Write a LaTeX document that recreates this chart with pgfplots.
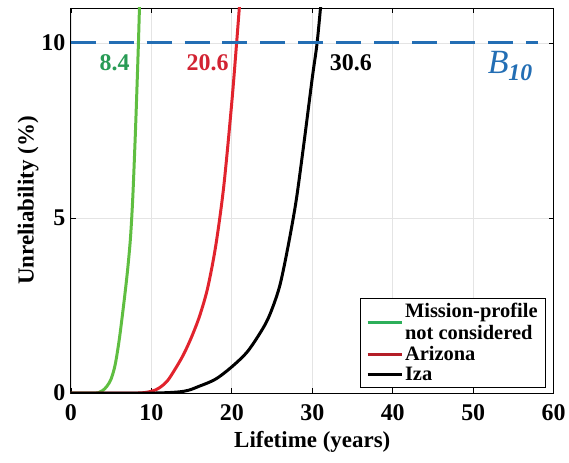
\documentclass[border=0pt]{standalone}
\usepackage{fontspec}
\setmainfont{Liberation Serif}
\usepackage{pgfplots}
\pgfplotsset{compat=1.18}
\definecolor{cgreen}{RGB}{95,190,65}
\definecolor{cgreenL}{RGB}{45,175,90}
\definecolor{cgreenT}{RGB}{40,155,85}
\definecolor{cred}{RGB}{225,35,45}
\definecolor{credL}{RGB}{180,30,40}
\definecolor{credT}{RGB}{210,35,50}
\definecolor{cblue}{RGB}{35,110,180}
\definecolor{cgrid}{RGB}{228,228,228}
\begin{document}
\begin{tikzpicture}
\begin{axis}[
  scale only axis,
  width=484pt, height=386pt,
  xmin=0, xmax=60, ymin=0, ymax=11,
  xtick={0,10,20,30,40,50,60},
  ytick={0,5,10},
  grid=major,
  major grid style={cgrid, line width=0.6pt},
  tick style={black, line width=0.6pt},
  major tick length=5pt,
  tick align=inside,
  axis line style={black, line width=0.8pt},
  /pgf/number format/assume math mode=true,
  tick label style={font=\fontsize{24}{24}\selectfont\bfseries},
  xticklabel style={yshift=-8pt},
  yticklabel style={xshift=-2pt},
  label style={font=\fontsize{23}{23}\selectfont\bfseries},
  xlabel={Lifetime (years)},
  ylabel={Unreliability (\%)},
  xlabel style={yshift=-4pt},
  ylabel style={yshift=-4pt},
  legend style={at={(0.984,0.015)}, anchor=south east, draw=black, line width=0.8pt,
    font=\fontsize{20.5}{22.5}\selectfont\bfseries, cells={align=left},
    row sep=1pt, inner sep=3pt, inner xsep=6pt},
  legend cell align=left,
  legend image code/.code={\draw[#1] (0pt,0pt) -- (34pt,0pt);},
]
\addplot[cgreen, line width=3pt, smooth, legend image post style={cgreenL}] coordinates {
 (0,0) (3,0) (3.6,0.03) (4,0.08) (4.5,0.2) (5,0.4) (5.5,0.8) (6,1.5) (6.5,2.4) (7,3.4) (7.4,4.4) (7.7,5.6) (8.0,7.3) (8.2,8.6) (8.4,10) (8.55,11.2)
};
\addlegendentry{Mission-profile\\not considered}
\addplot[cred, line width=3pt, smooth, legend image post style={credL}] coordinates {
 (0,0) (8,0) (10,0.05) (11,0.15) (12,0.35) (13,0.7) (14,1.1) (15,1.6) (16,2.2) (17,3.0) (18,4.2) (19,5.9) (20,8.3) (20.6,10) (21,11.2)
};
\addlegendentry{Arizona}
\addplot[black, line width=3pt, smooth] coordinates {
 (0,0) (10,0) (14,0.05) (16,0.2) (18,0.4) (20,0.75) (22,1.2) (24,1.9) (25,2.4) (26,3.1) (27,4.2) (28,5.5) (29,7.2) (30,9.0) (30.6,10) (31.1,11.2)
};
\addlegendentry{Iza}
\addplot[cblue, line width=3pt, dash pattern=on 25pt off 13pt, forget plot] coordinates {(0,10) (58,10)};
\node[cgreenT, font=\fontsize{24}{24}\selectfont\bfseries] at (axis cs:5.45,9.45) {8.4};
\node[credT, font=\fontsize{24}{24}\selectfont\bfseries] at (axis cs:17.0,9.45) {20.6};
\node[black, font=\fontsize{24}{24}\selectfont\bfseries] at (axis cs:34.8,9.45) {30.6};
\node[cblue, font=\fontsize{34}{34}\selectfont\itshape] at (axis cs:54.6,9.35) {B\textsubscript{\bfseries 10}};
\end{axis}
\path ([xshift=-71pt,yshift=-70pt]current axis.south west) ([xshift=14pt,yshift=8pt]current axis.north east);
\end{tikzpicture}
\end{document}
